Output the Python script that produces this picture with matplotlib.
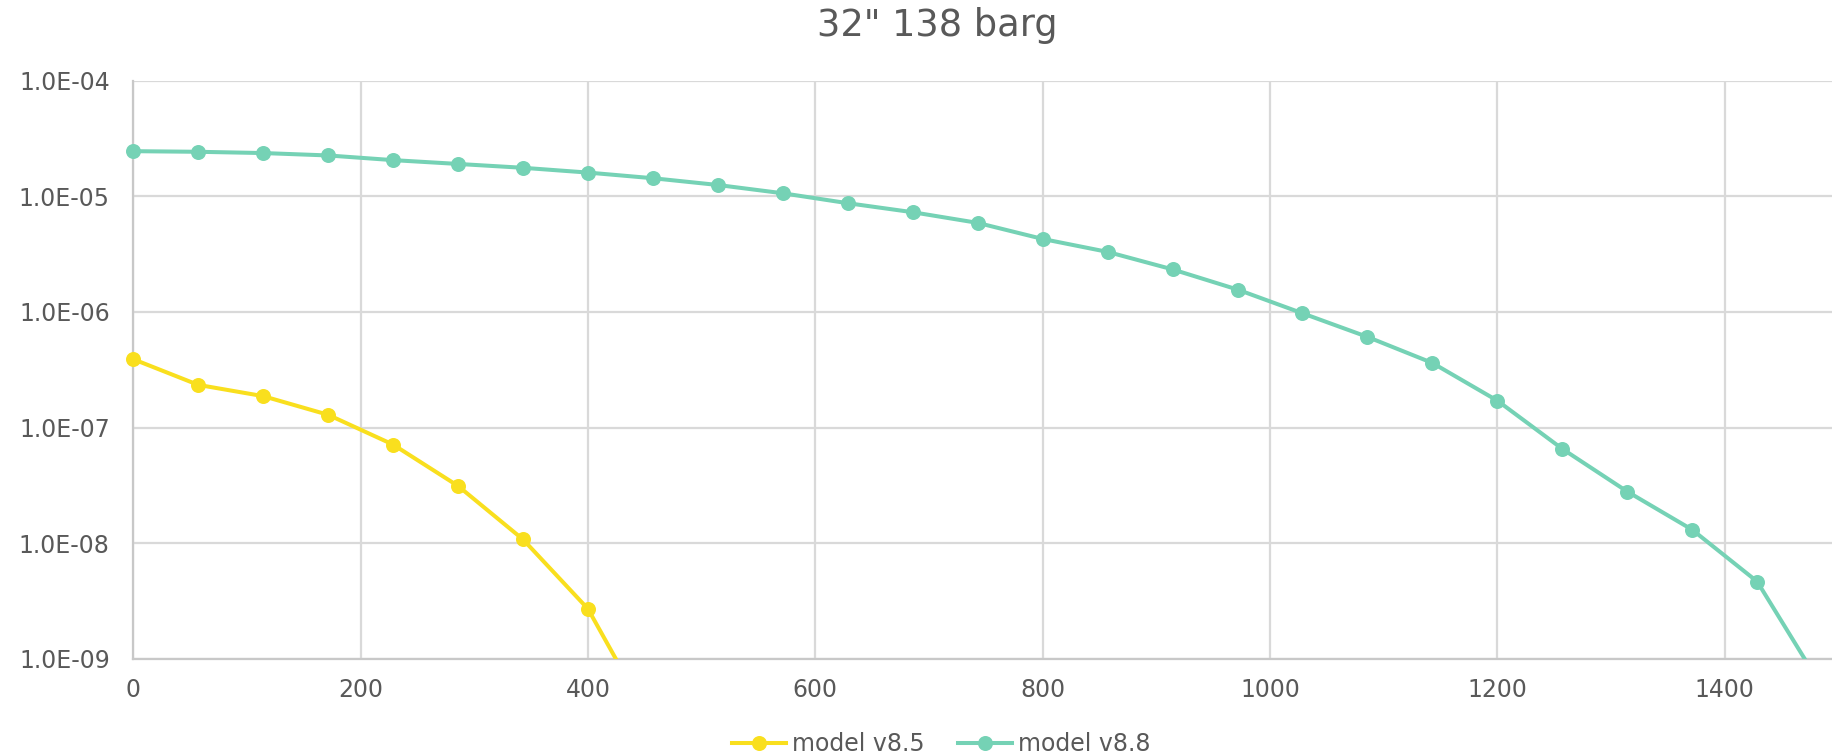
import numpy as np
import matplotlib
matplotlib.use("Agg")
import matplotlib.pyplot as plt
from matplotlib.lines import Line2D
from matplotlib.ticker import FixedLocator, FuncFormatter

# ---- data ----
step = 400.0 / 7.0
x_v85 = [0, step, 2*step, 3*step, 4*step, 5*step, 6*step, 7*step, 8*step]
y_v85 = [3.90e-7, 2.34e-7, 1.87e-7, 1.29e-7, 7.13e-8, 3.13e-8, 1.08e-8, 2.71e-9, 2.67e-10]

x_v88 = [i * step for i in range(27)]
y_v88 = [2.45e-5, 2.42e-5, 2.36e-5, 2.25e-5, 2.05e-5, 1.90e-5, 1.76e-5, 1.60e-5,
         1.43e-5, 1.25e-5, 1.06e-5, 8.70e-6, 7.27e-6, 5.88e-6, 4.27e-6, 3.30e-6,
         2.33e-6, 1.56e-6, 9.73e-7, 6.08e-7, 3.62e-7, 1.71e-7, 6.55e-8, 2.80e-8,
         1.31e-8, 4.67e-9, 5.70e-10]

series_names = ["model v8.5", "model v8.8"]
series_colors = ["#F9DF1E", "#75D2B5"]
title = '32" 138 barg'
x_ticks = [0, 200, 400, 600, 800, 1000, 1200, 1400]
y_ticks = [1e-9, 1e-8, 1e-7, 1e-6, 1e-5, 1e-4]

TXT = "#595959"
W, H = 1832, 755
fig = plt.figure(figsize=(W / 100, H / 100), dpi=100)
left, right, top, bottom = 133.3, 1832, 80.5, 659
ax = fig.add_axes([left / W, (H - bottom) / H, (right - left) / W, (bottom - top) / H])

ymin, ymax = 1e-9, 1e-4
ax.set_yscale("log")
ax.set_xlim(0, 1494.4)
ax.set_ylim(ymin, ymax)

LW, MS = 2.9, 10.8
handles = []
for xs, ys, name, col in [(x_v85, y_v85, series_names[0], series_colors[0]),
                           (x_v88, y_v88, series_names[1], series_colors[1])]:
    xs = np.asarray(xs); ys = np.asarray(ys)
    ax.plot(xs, ys, color=col, lw=LW, solid_capstyle="round", zorder=3)
    m = ys >= ymin
    ax.plot(xs[m], ys[m], ls="none", marker="o", ms=MS, color=col,
            markeredgewidth=0, clip_on=False, zorder=4)
    handles.append(Line2D([], [], color=col, lw=LW, marker="o", ms=MS,
                          markeredgewidth=0, label=name))

ax.xaxis.set_major_locator(FixedLocator(x_ticks))
ax.yaxis.set_major_locator(FixedLocator(y_ticks))
ax.yaxis.set_minor_locator(FixedLocator([]))
ax.yaxis.set_major_formatter(FuncFormatter(lambda v, p: f"{v:.1E}"))
ax.xaxis.set_major_formatter(FuncFormatter(lambda v, p: f"{v:.0f}"))

ax.grid(True, which="major", color="#D9D9D9", lw=1.6)
ax.set_axisbelow(True)
for s in ["top", "right"]:
    ax.spines[s].set_visible(False)
for s in ["left", "bottom"]:
    ax.spines[s].set_color("#C8C8C8")
    ax.spines[s].set_linewidth(1.6)

ax.tick_params(axis="both", which="both", length=0, labelsize=17, labelcolor=TXT)
ax.tick_params(axis="x", pad=14)
ax.tick_params(axis="y", pad=17)

fig.text(937 / W, 1 - 25.5 / H, title, ha="center", va="center",
         fontsize=26.5, color=TXT)

leg = fig.legend(handles=handles, loc="center", bbox_to_anchor=(941 / W, 1 - 744 / H),
                 ncol=2, frameon=False, fontsize=17, handlelength=2.3,
                 handletextpad=0.25, columnspacing=1.4, borderaxespad=0)
for t in leg.get_texts():
    t.set_color(TXT)

fig.savefig("out.png", dpi=100)
